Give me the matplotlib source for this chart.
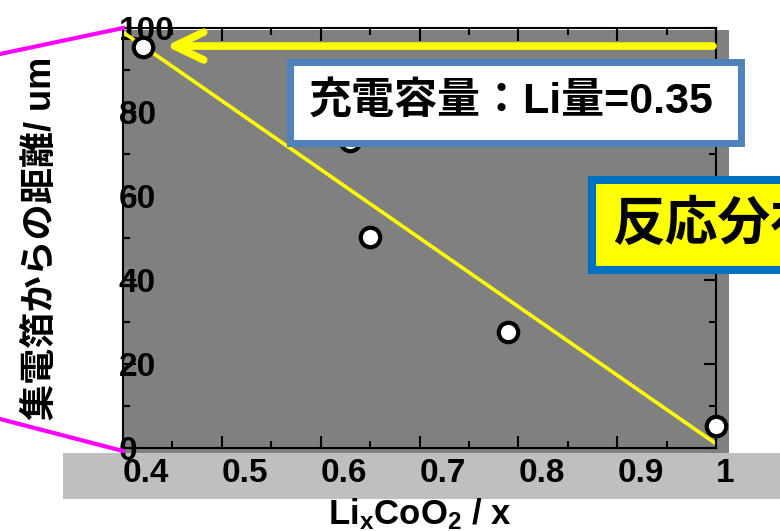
import matplotlib
matplotlib.use('Agg')
import matplotlib.pyplot as plt
from matplotlib.patches import Rectangle
from matplotlib.lines import Line2D
from matplotlib.ticker import MultipleLocator

plt.rcParams['font.family'] = ['Liberation Sans', 'Noto Sans CJK JP']
plt.rcParams['font.weight'] = 'bold'
plt.rcParams['axes.labelweight'] = 'bold'
plt.rcParams['mathtext.fontset'] = 'custom'
plt.rcParams['mathtext.rm'] = 'Liberation Sans:bold'
plt.rcParams['mathtext.it'] = 'Liberation Sans:bold'
plt.rcParams['mathtext.bf'] = 'Liberation Sans:bold'

# measured distance of the reaction front vs. Li content
li_x = [0.42, 0.63, 0.65, 0.79, 1.0]
distance_um = [95.5, 73.0, 50.2, 27.6, 5.2]

# straight guide line
fit_x = [0.4, 1.0]
fit_y = [99, 1]

xticks = [0.4, 0.5, 0.6, 0.7, 0.8, 0.9, 1.0]
xtick_labels = ['0.4', '0.5', '0.6', '0.7', '0.8', '0.9', '1']
yticks = [0, 20, 40, 60, 80, 100]
ytick_labels = ['0', '20', '40', '60', '80', '100']

W, H = 780, 531


def fx(px):
    return px / W


def fy(py):
    return 1 - py / H


fig = plt.figure(figsize=(W / 100, H / 100), dpi=100)
ax = fig.add_axes([fx(123), fy(448), (716 - 123) / W, (448 - 28) / H])
ax.set_facecolor('none')
ax.set_zorder(2)

# slide backgrounds behind the plot
fig.add_artist(Rectangle((fx(123), fy(453)), (729 - 123) / W, (453 - 30) / H,
                         transform=fig.transFigure, facecolor='#808080',
                         edgecolor='none', zorder=1))
fig.add_artist(Rectangle((fx(63), fy(499)), (780 - 63) / W, (499 - 453) / H,
                         transform=fig.transFigure, facecolor='#BFBFBF',
                         edgecolor='none', zorder=1))

# magenta zoom lines from the left
for y0, y1 in [(54, 28), (419, 451)]:
    fig.add_artist(Line2D([fx(0), fx(123)], [fy(y0), fy(y1)], color='#FF00FF',
                          lw=3, transform=fig.transFigure, zorder=3))

ax.plot(fit_x, fit_y, color='#FFFF00', lw=2.6, zorder=2, solid_capstyle='butt')
ax.plot(li_x, distance_um, 'o', ms=14, mfc='white', mec='black', mew=3,
        zorder=4, clip_on=False)

ax.annotate('', xy=(0.072, 0.957), xytext=(0.995, 0.957), xycoords='axes fraction',
            arrowprops=dict(arrowstyle='->,head_length=2.1,head_width=1.0',
                            color='#FFFF00', lw=5.5, shrinkA=0, shrinkB=0,
                            mutation_scale=10, capstyle='round', joinstyle='round'),
            zorder=3)

ax.set_xlim(0.4, 1.0)
ax.set_ylim(0, 100)
ax.set_xticks(xticks)
ax.set_xticklabels(xtick_labels, ha='left')
ax.set_yticks(yticks)
ax.set_yticklabels(ytick_labels, ha='left')
ax.xaxis.set_minor_locator(MultipleLocator(0.05))
ax.yaxis.set_minor_locator(MultipleLocator(10))
ax.tick_params(which='both', direction='in', top=True, right=True, width=1.5,
               colors='black')
ax.tick_params(which='major', length=9)
ax.tick_params(which='minor', length=5)
ax.tick_params(axis='x', labelsize=24, pad=7)
ax.tick_params(axis='y', labelsize=24, pad=3)
for sp in ax.spines.values():
    sp.set_linewidth(1.5)

ax.set_ylabel('集電箔からの距離/ um', fontsize=26, fontweight='bold')
ax.yaxis.set_label_coords(-0.108, 0.5)
ax.set_xlabel(r'Li$_\mathrm{x}$CoO$_\mathrm{2}$ / x', fontsize=25, fontweight='bold')
ax.xaxis.set_label_coords(0.5, -0.115)

# annotation boxes
fig.add_artist(Rectangle((fx(289.5), fy(142.5)), (740.5 - 289.5) / W, (142.5 - 62.5) / H,
                         transform=fig.transFigure, facecolor='white',
                         edgecolor='#4F81BD', lw=5, zorder=5))
fig.text(fx(511), fy(101), '充電容量：Li量=0.35', fontsize=31, ha='center',
         va='center', fontweight='bold', zorder=6)

fig.add_artist(Rectangle((fx(592), fy(270)), (820 - 592) / W, (270 - 180) / H,
                         transform=fig.transFigure, facecolor='#FFFF00',
                         edgecolor='#0070C0', lw=5.8, zorder=5))
fig.text(fx(612), fy(224), '反応分布', fontsize=38, ha='left', va='center',
         family='Noto Sans CJK JP', fontweight='bold', zorder=6)

fig.savefig('out.png', dpi=100)
